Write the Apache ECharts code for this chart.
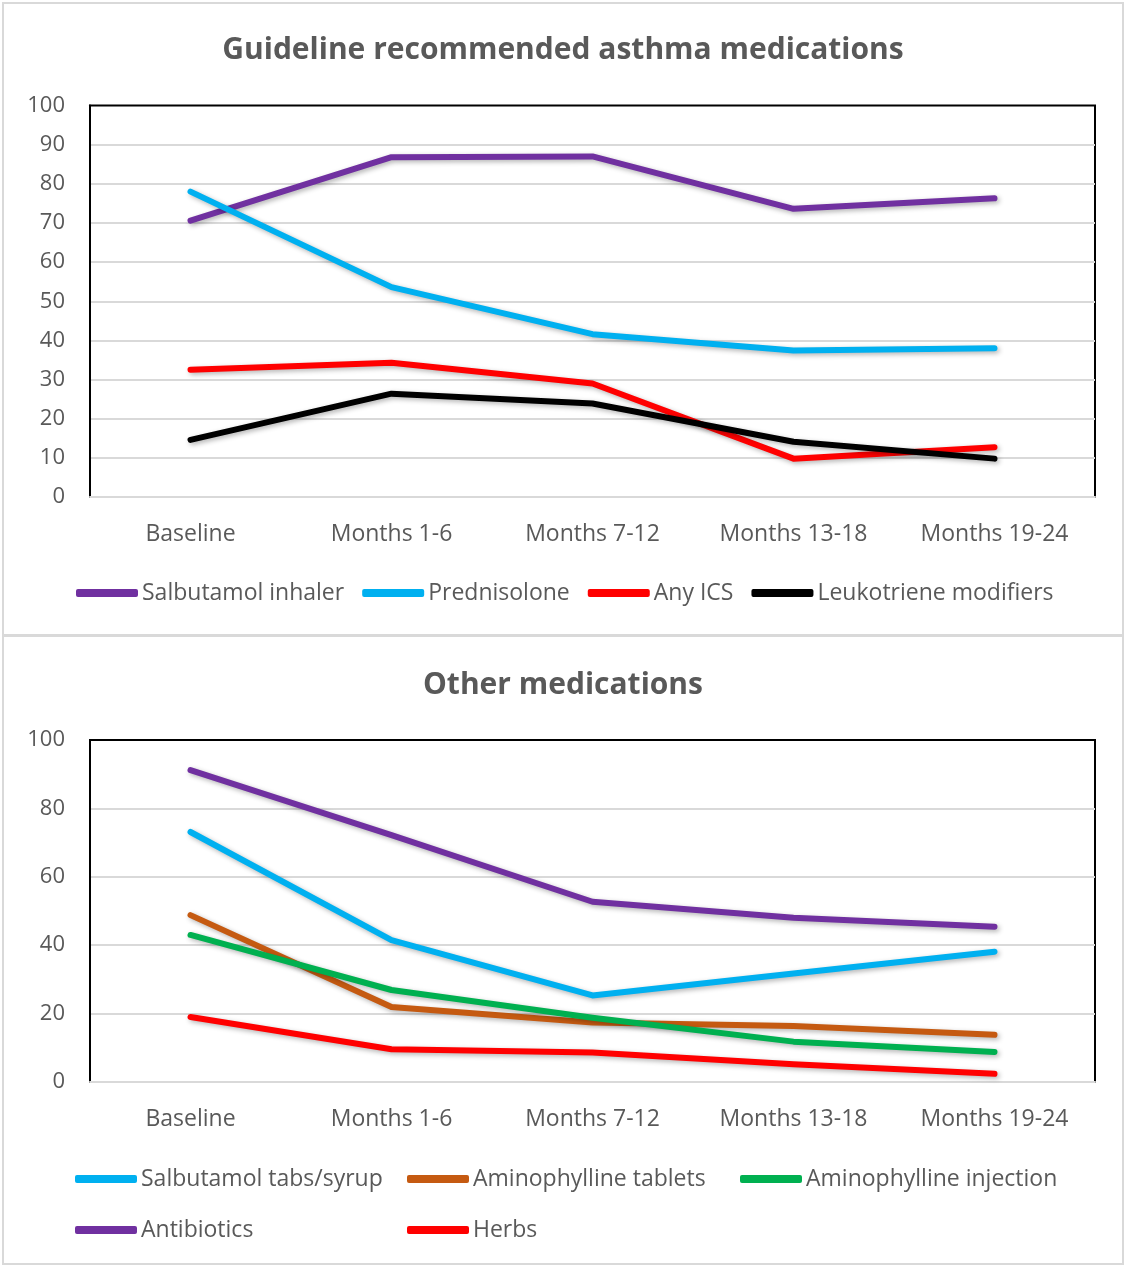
<!DOCTYPE html>
<html>
<head>
<meta charset="utf-8">
<script src="https://cdn.jsdelivr.net/npm/echarts@6/dist/echarts.min.js"></script>
<style>
  html, body { margin: 0; padding: 0; background: #fff; }
  #c1 { position: absolute; left: 0; top: 0; width: 1126px; height: 635px; }
  #c2 { position: absolute; left: 0; top: 635px; width: 1126px; height: 631px; }
  .frame { position: absolute; box-sizing: border-box; border: 2px solid #d9d9d9; pointer-events: none; }
</style>
</head>
<body>
<div id="c1"></div>
<div id="c2"></div>
<div class="frame" style="left:2px;top:2px;width:1122px;height:634px;"></div>
<div class="frame" style="left:2px;top:635px;width:1122px;height:630px;"></div>
<script>
// ---- data ----
const categories = ['Baseline', 'Months 1-6', 'Months 7-12', 'Months 13-18', 'Months 19-24'];

const title1 = 'Guideline recommended asthma medications';
const salbutamolInhaler = [70.6, 86.8, 87.0, 73.6, 76.3];
const prednisolone      = [78.0, 53.6, 41.6, 37.4, 38.0];
const anyICS            = [32.5, 34.3, 29.0, 9.8, 12.7];
const leukotriene       = [14.6, 26.4, 23.9, 14.1, 9.8];

const title2 = 'Other medications';
const salbutamolTabs    = [73.1, 41.5, 25.3, 31.7, 38.1];
const aminoTablets      = [48.8, 21.9, 17.4, 16.4, 13.8];
const aminoInjection    = [43.0, 26.9, 18.8, 11.8, 8.8];
const antibiotics       = [91.2, 72.2, 52.7, 48.0, 45.4];
const herbs             = [19.0, 9.6, 8.6, 5.2, 2.4];

const yTicks1 = { min: 0, max: 100, interval: 10 };
const yTicks2 = { min: 0, max: 100, interval: 20 };

// ---- styling ----
const FONT = 'Open Sans';
const TXT = '#595959';
const COLORS = {
  purple: '#7030A0', cyan: '#00B0F0', red: '#FF0000', black: '#000000',
  orange: '#C55A11', green: '#00B050'
};

function line(name, data, color) {
  return {
    name, type: 'line', data, showSymbol: false, symbol: 'none',
    itemStyle: { color },
    lineStyle: {
      color, width: 6, cap: 'round', join: 'round',
      shadowColor: 'rgba(0,0,0,0.3)', shadowBlur: 5, shadowOffsetX: 2, shadowOffsetY: 2
    },
    emphasis: { disabled: true }, animation: false
  };
}

function baseOption(titleText, gridTop, gridHeight, ticks) {
  return {
    animation: false,
    textStyle: { fontFamily: FONT },
    title: {
      text: titleText, left: 'center', top: 30,
      textStyle: { fontFamily: FONT, fontSize: 30, fontWeight: 'bold', color: TXT }
    },
    grid: {
      left: 90, right: 31, top: gridTop, height: gridHeight,
      show: true, borderColor: '#000', borderWidth: 2, backgroundColor: 'transparent'
    },
    xAxis: {
      type: 'category', data: categories, boundaryGap: true,
      axisTick: { show: false },
      axisLine: { lineStyle: { color: '#d9d9d9', width: 2 } },
      axisLabel: { color: TXT, fontSize: 23, fontFamily: FONT, margin: 26 }
    },
    yAxis: {
      type: 'value', min: ticks.min, max: ticks.max, interval: ticks.interval,
      axisLine: { show: true, lineStyle: { color: '#000', width: 2 } },
      axisTick: { show: false },
      axisLabel: { color: TXT, fontSize: 22, fontFamily: FONT, margin: 25 },
      splitLine: { show: true, showMaxLine: false, lineStyle: { color: '#d9d9d9', width: 2 } }
    }
  };
}

function legendStyle(extra) {
  return Object.assign({
    icon: 'roundRect', itemWidth: 62, itemHeight: 8, itemGap: 18, padding: 0,
    textStyle: { color: TXT, fontSize: 23, fontFamily: FONT, lineHeight: 26, padding: [0, 0, 0, -1] },
    selectedMode: false
  }, extra);
}

// Chart 1
const c1 = echarts.init(document.getElementById('c1'), null, { renderer: 'canvas' });
const opt1 = baseOption(title1, 105.5, 391.5, yTicks1);
opt1.legend = legendStyle({ left: 76, top: 580, data: ['Salbutamol inhaler', 'Prednisolone', 'Any ICS', 'Leukotriene modifiers'] });
opt1.series = [
  line('Salbutamol inhaler', salbutamolInhaler, COLORS.purple),
  line('Prednisolone', prednisolone, COLORS.cyan),
  line('Any ICS', anyICS, COLORS.red),
  line('Leukotriene modifiers', leukotriene, COLORS.black)
];
c1.setOption(opt1);

// Chart 2
const c2 = echarts.init(document.getElementById('c2'), null, { renderer: 'canvas' });
const opt2 = baseOption(title2, 105, 342, yTicks2);
opt2.legend = [
  legendStyle({ orient: 'vertical', left: 75, top: 531, itemGap: 25, data: ['Salbutamol tabs/syrup', 'Antibiotics'] }),
  legendStyle({ orient: 'vertical', left: 407, top: 531, itemGap: 25, data: ['Aminophylline tablets', 'Herbs'] }),
  legendStyle({ orient: 'vertical', left: 740, top: 531, itemGap: 25, data: ['Aminophylline injection'] })
];
opt2.series = [
  line('Salbutamol tabs/syrup', salbutamolTabs, COLORS.cyan),
  line('Aminophylline tablets', aminoTablets, COLORS.orange),
  line('Aminophylline injection', aminoInjection, COLORS.green),
  line('Antibiotics', antibiotics, COLORS.purple),
  line('Herbs', herbs, COLORS.red)
];
c2.setOption(opt2);
</script>
</body>
</html>
